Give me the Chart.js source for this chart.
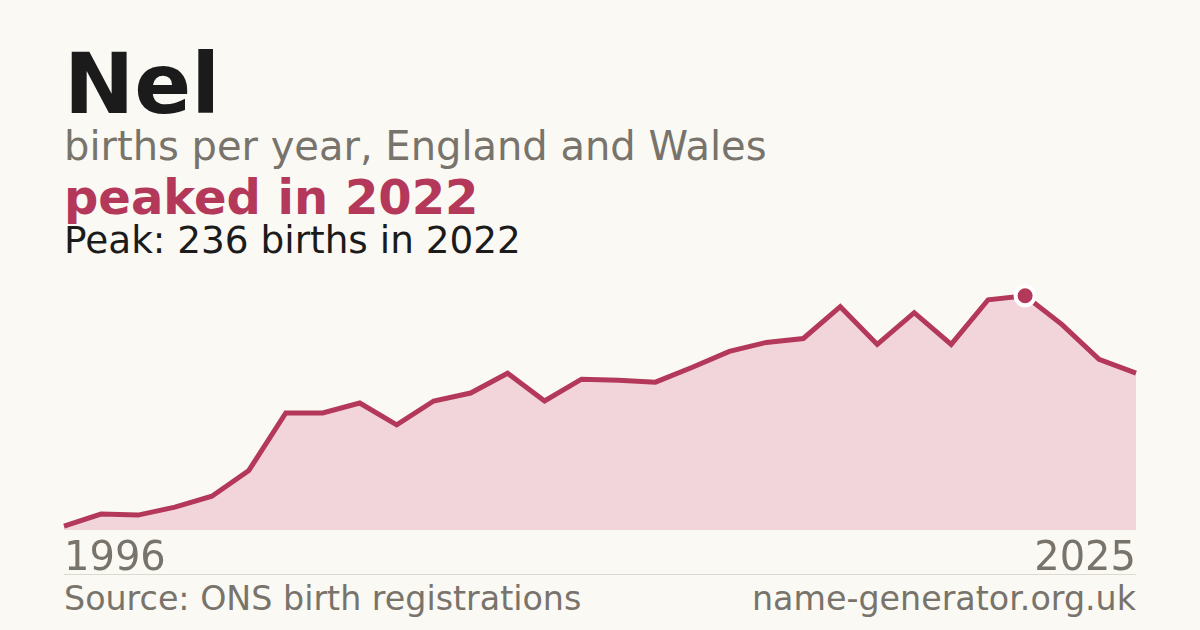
<!DOCTYPE html>
<html>
<head>
<meta charset="utf-8">
<script src="https://cdn.jsdelivr.net/npm/chart.js@4.4.1/dist/chart.umd.min.js"></script>
<style>
  html, body { margin: 0; padding: 0; }
  body { width: 1200px; height: 630px; background: #faf9f4; position: relative; overflow: hidden; font-family: "DejaVu Sans", sans-serif; }
  .t { position: absolute; left: 64px; line-height: 1; white-space: nowrap; }
  #title { top: 42px; font-size: 84px; font-weight: bold; color: #1b1b1b; }
  #sub { top: 126px; font-size: 40px; color: #78736b; }
  #peaked { top: 173px; font-size: 48px; font-weight: bold; color: #b3385a; }
  #peak { top: 222px; font-size: 37.4px; color: #1b1b1b; }
  #y0 { top: 536px; font-size: 40px; color: #78736b; }
  #y1 { top: 536px; font-size: 40px; color: #78736b; left: auto; right: 64px; }
  #rule { position: absolute; left: 64px; width: 1072px; top: 574px; height: 1px; background: #dcd9d1; }
  #src { top: 582px; font-size: 33.3px; color: #78736b; }
  #site { top: 582px; font-size: 33.3px; color: #78736b; left: auto; right: 64px; }
  #wrap { position: absolute; left: 0; top: 260px; width: 1200px; height: 280px; }
</style>
</head>
<body>
<div class="t" id="title">Nel</div>
<div class="t" id="sub">births per year, England and Wales</div>
<div class="t" id="peaked">peaked in 2022</div>
<div class="t" id="peak">Peak: 236 births in 2022</div>
<div id="wrap"><canvas id="c"></canvas></div>
<div class="t" id="y0">1996</div>
<div class="t" id="y1">2025</div>
<div id="rule"></div>
<div class="t" id="src">Source: ONS birth registrations</div>
<div class="t" id="site">name-generator.org.uk</div>
<script>
const years = [1996,1997,1998,1999,2000,2001,2002,2003,2004,2005,2006,2007,2008,2009,2010,2011,2012,2013,2014,2015,2016,2017,2018,2019,2020,2021,2022,2023,2024,2025];
const births = [4,16,15,23,34,60,118,118,128,106,130,138,158,130,152,151,149,164,180,189,193,225,187,219,187,232,236,207,172,158];
const peakYear = 2022;

const accent = '#b3385a';
const pointR = years.map(y => y === peakYear ? 9.5 : 0);

new Chart(document.getElementById('c'), {
  type: 'line',
  data: {
    labels: years,
    datasets: [{
      data: births,
      borderColor: accent,
      borderWidth: 5,
      backgroundColor: '#f2d5db',
      fill: 'origin',
      tension: 0,
      pointRadius: pointR,
      pointHoverRadius: pointR,
      pointBackgroundColor: accent,
      pointBorderColor: '#ffffff',
      pointBorderWidth: 4,
      clip: false
    }]
  },
  options: {
    responsive: true,
    maintainAspectRatio: false,
    animation: false,
    layout: { padding: { left: 64, right: 64, top: 10, bottom: 10 } },
    plugins: { legend: { display: false }, tooltip: { enabled: false } },
    scales: {
      x: { display: false, offset: false },
      y: { display: false, min: 0, max: 262 }
    }
  }
});
</script>
</body>
</html>
